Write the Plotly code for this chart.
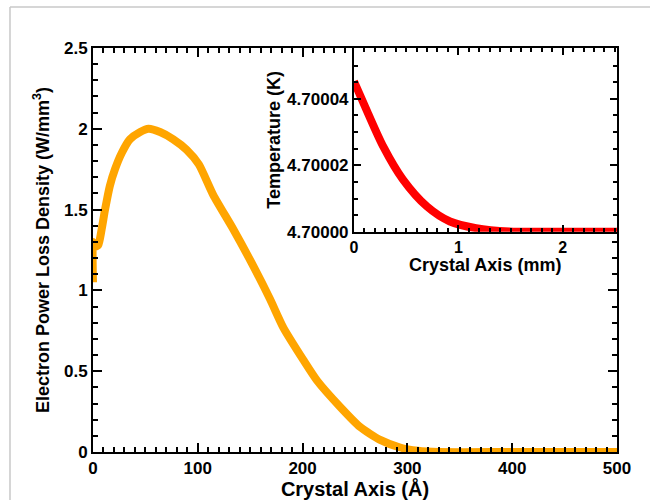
import plotly.graph_objects as go

# Main curve: electron power loss density vs crystal axis (Angstrom)
main_x = [0, 0, 2, 5, 8.3, 11.5, 16, 21, 27.4, 35.3, 45, 53, 64, 76.6, 89.4, 101,
          114.8, 134, 153, 169, 181.6, 200.7, 214, 235.7, 254.8, 274, 293, 310, 330, 400, 500]
main_y = [1.05, 1.30, 1.27, 1.28, 1.38, 1.50, 1.645, 1.75, 1.85, 1.935, 1.98, 2.00, 1.98, 1.935, 1.87, 1.78,
          1.59, 1.377, 1.15, 0.945, 0.77, 0.57, 0.44, 0.28, 0.155, 0.075, 0.028, 0.008, 0.0, 0.0, 0.0]

# Inset curve: temperature vs crystal axis (mm), offset from 4.7 K
inset_x = [0.0, 0.12, 0.28, 0.47, 0.70, 0.92, 1.17, 1.49, 1.8, 2.2, 2.52]
inset_dy = [4.53e-5, 3.67e-5, 2.57e-5, 1.57e-5, 0.76e-5, 0.31e-5, 0.11e-5, 0.01e-5, 0.0, 0.0, 0.0]
inset_y = [4.7 + d for d in inset_dy]

FONT = "Liberation Sans, Arial, Helvetica, sans-serif"

fig = go.Figure()
fig.add_trace(go.Scatter(x=main_x, y=main_y, mode="lines",
                         line=dict(color="#FFA500", width=8, shape="spline", smoothing=0.6),
                         showlegend=False))
fig.add_trace(go.Scatter(x=inset_x, y=inset_y, mode="lines", xaxis="x2", yaxis="y2",
                         line=dict(color="#FF0000", width=8, shape="spline", smoothing=0.8),
                         showlegend=False))

axis_common = dict(showline=True, linecolor="black", linewidth=2, mirror="allticks",
                   ticks="inside", tickcolor="black", tickwidth=2, showgrid=False,
                   zeroline=False, automargin=False)

fig.update_layout(
    width=650, height=500,
    margin=dict(l=93, r=33, t=48, b=48),
    paper_bgcolor="white", plot_bgcolor="white",
    font=dict(family=FONT, color="black"),
    xaxis=dict(**axis_common, range=[0, 500], dtick=100, tick0=0, ticklen=9,
               minor=dict(ticks="inside", dtick=10, ticklen=5, tickcolor="black", tickwidth=1.5),
               tickfont=dict(size=17, weight="bold"),
               title=dict(text="Crystal Axis (Å)", font=dict(size=20, weight="bold"), standoff=2)),
    yaxis=dict(**axis_common, range=[0, 2.5], dtick=0.5, tick0=0, ticklen=9,
               minor=dict(ticks="inside", dtick=0.1, ticklen=5, tickcolor="black", tickwidth=1.5),
               tickfont=dict(size=17, weight="bold"),
               title=dict(text="Electron Power Loss Density (W/mm<sup>3</sup>)",
                          font=dict(size=18, weight="bold"), standoff=10)),
    xaxis2=dict(**axis_common, domain=[0.498, 1.0], anchor="y2", range=[0, 2.52], dtick=1, tick0=0,
                ticklen=7,
                minor=dict(ticks="inside", dtick=0.1, ticklen=4, tickcolor="black", tickwidth=1.5),
                tickfont=dict(size=16, weight="bold")),
    yaxis2=dict(**axis_common, domain=[0.545, 1.0], anchor="x2", range=[4.7, 4.7000553],
                dtick=0.00002, tick0=4.7, tickformat=".5f", ticklen=7,
                minor=dict(ticks="inside", dtick=0.000005, ticklen=4, tickcolor="black", tickwidth=1.5),
                tickfont=dict(size=17, weight="bold"),
                title=dict(text="Temperature (K)", font=dict(size=18, weight="bold"), standoff=2)),
    annotations=[
        dict(text="Crystal Axis (mm)", xref="x2 domain", yref="paper", x=0.5, y=0.462,
             xanchor="center", yanchor="middle", showarrow=False,
             font=dict(size=18, weight="bold", family=FONT)),
    ],
    shapes=[
        dict(type="line", xref="paper", yref="paper", x0=-0.1584, x1=1.07, y0=1.1015, y1=1.1015,
             line=dict(color="#c8c8c8", width=1.5)),
        dict(type="line", xref="paper", yref="paper", x0=-0.1584, x1=-0.1584, y0=1.1015, y1=-0.13,
             line=dict(color="#c8c8c8", width=1.5)),
    ],
)

fig.write_html("out.html")
